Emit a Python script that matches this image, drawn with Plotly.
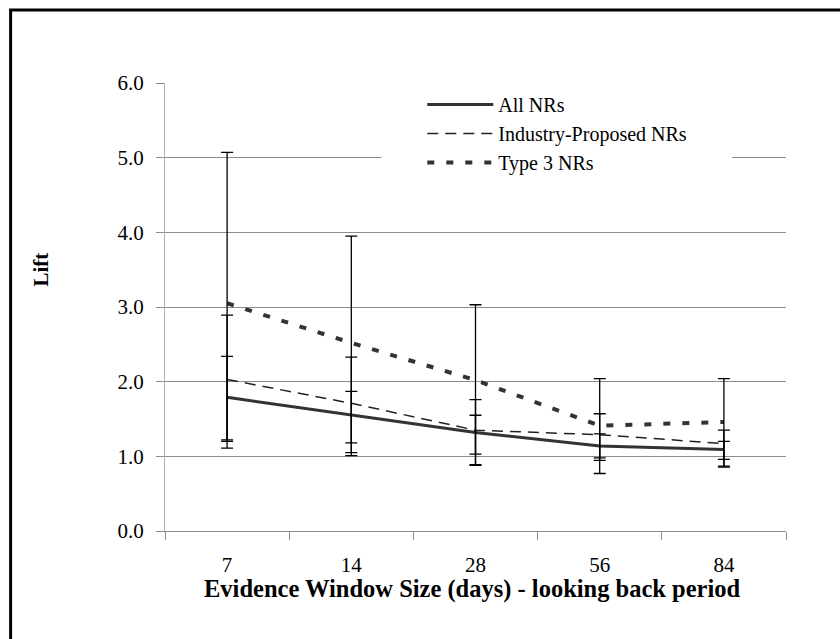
import plotly.graph_objects as go

# Evidence window sizes (days)
windows = ["7", "14", "28", "56", "84"]

# Mean lift and confidence bounds per series
all_nrs = [1.79, 1.55, 1.32, 1.14, 1.09]
all_nrs_hi = [2.34, 1.87, 1.55, 1.30, 1.20]
all_nrs_lo = [1.22, 1.18, 1.03, 0.98, 0.96]

industry_nrs = [2.03, 1.71, 1.35, 1.29, 1.17]
industry_nrs_hi = [2.89, 2.33, 1.76, 1.57, 1.35]
industry_nrs_lo = [1.20, 1.05, 0.88, 0.945, 0.855]

type3_nrs = [3.05, 2.52, 2.02, 1.41, 1.46]
type3_nrs_hi = [5.07, 3.95, 3.03, 2.04, 2.04]
type3_nrs_lo = [1.11, 1.01, 0.89, 0.77, 0.87]

y_ticks = [0, 1, 2, 3, 4, 5, 6]

SERIF = "Liberation Serif"

series = [
    ("All NRs", all_nrs, all_nrs_hi, all_nrs_lo, dict(color="#333333", width=3, dash="solid")),
    ("Industry-Proposed NRs", industry_nrs, industry_nrs_hi, industry_nrs_lo,
     dict(color="#222222", width=1.5, dash="11px,7px")),
    ("Type 3 NRs", type3_nrs, type3_nrs_hi, type3_nrs_lo,
     dict(color="#333333", width=4, dash="7px,12px")),
]

fig = go.Figure()

for name, vals, hi, lo, line in series:
    fig.add_trace(go.Scatter(
        x=windows, y=vals, name=name, mode="lines", line=line,
        hoverinfo="skip",
    ))

# Error bars drawn on top of the lines
for name, vals, hi, lo, line in series:
    fig.add_trace(go.Scatter(
        x=windows, y=vals, mode="markers", showlegend=False,
        marker=dict(size=1, color="rgba(0,0,0,0)"),
        error_y=dict(
            type="data", symmetric=False,
            array=[h - v for h, v in zip(hi, vals)],
            arrayminus=[v - l for v, l in zip(vals, lo)],
            color="black", thickness=1.3, width=6,
        ),
        hoverinfo="skip",
    ))

L, R, T, B = 164.5, 54, 83, 108
W, H = 840, 639
pw, ph = W - L - R, H - T - B


def px_x(x):
    return (x - L) / pw


def px_y(y):
    return (H - B - y) / ph


shapes = [
    # white legend panel over the gridlines
    dict(type="rect", xref="paper", yref="paper", layer="above",
         x0=px_x(381), x1=px_x(732), y0=px_y(176), y1=px_y(89),
         fillcolor="white", line=dict(width=0)),
    # outer frame (top and left edges)
    dict(type="line", xref="paper", yref="paper",
         x0=px_x(10), x1=px_x(10), y0=px_y(10), y1=px_y(660),
         line=dict(color="black", width=3)),
    dict(type="line", xref="paper", yref="paper",
         x0=px_x(8.5), x1=px_x(860), y0=px_y(10), y1=px_y(10),
         line=dict(color="black", width=3)),
]

annotations = [
    dict(text="<b>Lift</b>", textangle=-90, xref="paper", yref="paper",
         x=px_x(40), y=px_y(270), xanchor="center", yanchor="middle",
         showarrow=False, font=dict(family=SERIF, size=21, color="black")),
    dict(text="<b>Evidence Window Size (days) - looking back period</b>",
         xref="paper", yref="paper", x=px_x(472), y=px_y(589),
         xanchor="center", yanchor="middle", showarrow=False,
         font=dict(family=SERIF, size=24.5, color="black")),
]

fig.update_layout(
    width=W, height=H,
    margin=dict(l=L, r=R, t=T, b=B, pad=0),
    paper_bgcolor="white", plot_bgcolor="white",
    font=dict(family=SERIF, color="black", size=21),
    showlegend=True,
    legend=dict(
        x=px_x(422), y=px_y(85), xanchor="left", yanchor="top",
        bgcolor="rgba(0,0,0,0)", borderwidth=0,
        font=dict(family=SERIF, size=20, color="black"),
        itemwidth=66, tracegroupgap=0,
    ),
    shapes=shapes,
    annotations=annotations,
    xaxis=dict(
        type="category", tickson="boundaries", range=[-0.5, 4.5],
        showgrid=False, showline=True, linecolor="#8c8c8c", linewidth=1,
        ticks="outside", ticklen=8, tickcolor="#8c8c8c",
        tickfont=dict(family=SERIF, size=21),
        ticklabelstandoff=15,
    ),
    yaxis=dict(
        range=[0, 6], tickvals=y_ticks, tickformat=".1f",
        showgrid=True, gridcolor="#8c8c8c", gridwidth=1,
        showline=True, linecolor="#b0b0b0", linewidth=1,
        zeroline=False,
        ticks="outside", ticklen=8, tickcolor="#8c8c8c",
        tickfont=dict(family=SERIF, size=21),
        ticklabelstandoff=8,
    ),
)

fig.write_html("out.html")
